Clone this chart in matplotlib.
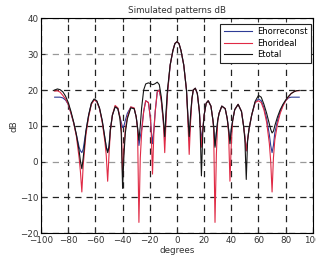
import matplotlib
matplotlib.use('Agg')
import matplotlib.pyplot as plt

# angles (degrees) shared by the three patterns
angles = [-90, -88, -86, -84, -82, -80, -78, -76, -74, -72, -71, -70, -69, -67, -65, -63, -61, -59, -57, -55,
          -53, -52, -51, -50, -49, -47.5, -45.5, -43.5, -42, -41, -40, -39, -38, -36.5, -34, -31.5, -30, -29,
          -28, -27, -26, -24.5, -23, -21, -19.5, -19, -18, -17, -16, -14.5, -13, -11.5, -10, -9, -8, -7, -5,
          -3, -1.5, 0, 1.5, 3, 5, 7, 8, 9, 10, 11, 12, 13.5, 15, 16.5, 17, 18, 19, 20, 21.5, 23, 25, 26.5,
          27, 28, 29, 30, 31, 33, 35.5, 37, 38, 39, 40, 41, 42.5, 45, 47.5, 49, 50, 51, 52, 53, 55, 57.5,
          60, 62, 64, 66, 68, 69, 70, 71, 72, 74, 76, 78, 80, 82, 84, 86, 88, 90]

e_reconst = [18, 18, 18, 17.8, 17.2, 16, 13.5, 10.8, 7.5, 4, 3, 2.5, 3.5, 8.5, 13, 16.2, 17.3, 16.8, 14.8, 11.3,
             6.5, 4, 2.8, 4.5, 9, 13, 15.3, 14.8, 12.5, 11, 9.5, 10, 11.5, 13.5, 15.2, 14.8, 12.5, 9.5,
             4.5, 7, 9, 14, 17, 16.5, 12, 9, 5, 9, 14, 19.5, 20, 17, 11, 6, 13, 19, 27,
             31, 33, 33.5, 33, 31, 27, 20, 13, 6, 12, 17.5, 20, 20.5, 19, 14, 11, 6, 9, 13, 16.3, 17, 15.5, 11.5,
             9.5, 4.5, 8, 11.5, 13.5, 15.5, 14.8, 12, 9, 6, 9, 11.5, 14.5, 16, 14, 10, 7, 3, 6, 9, 13, 16.5,
             17.5, 17, 15, 12, 7.5, 4.5, 2.5, 4.5, 8, 11.5, 14, 15.8, 17, 17.8, 18, 18, 18, 18]

e_ideal = [19.7, 19.8, 19.4, 18.5, 17.5, 16, 13.5, 10.8, 7, 1, -3, -8.5, -1, 7.5, 12.5, 16, 17.2, 16.8, 14.8, 11,
           5.5, 1.5, -5.5, 2, 8.5, 13, 15.7, 15, 12.5, 10, -4, 4, 9, 12.5, 15.3, 15, 12.5, 9,
           -17, 1, 8, 14, 17, 16.5, 12, 9, -3.5, 8, 14, 19.5, 20, 17, 11, 2.5, 12, 19, 27,
           31, 33, 33.5, 33, 31, 27, 20, 12, 2, 11, 17.5, 20, 20.5, 19, 14, 11, 4, 9, 13, 16.3, 17, 15.5, 11.5,
           9, -17, 2, 11.5, 13.5, 15.5, 14.8, 12, 8, -5.5, 5, 11.5, 14.5, 16, 14, 10, 7, 3, 6, 9, 13, 16.5,
           17, 16.5, 14.5, 11, 5, 0, -8.5, 1, 6, 10.5, 13.5, 15.5, 17, 18, 19, 19.5, 19.8, 19.8]

e_total = [20, 20.3, 20.1, 19.5, 18.3, 16.5, 14, 11, 7.5, 3, 0, -2, 1, 8.5, 13, 16.3, 17.5, 17, 15, 11.5,
           6.5, 4, 2.5, 4, 9, 13, 15.3, 14.8, 12, 8, -7.5, 2, 8, 12, 15, 14.8, 12.5, 9.5,
           6, 10, 15, 20, 21.7, 22, 21.8, 21.7, 21.5, 21.6, 21.8, 22.2, 21.5, 18, 12, 7, 14, 20, 27,
           31, 33, 33.5, 33, 31, 27, 20, 13, 7, 13, 17.5, 20, 20.5, 19, 14, 10, -4, 8, 13, 16.3, 17, 15.5, 11.5,
           10, 4, 8, 11.5, 13.5, 15.5, 14.8, 12, 9, 5, 9, 11.5, 14.5, 16, 14, 10, 6, -5, 6, 9, 13, 16.8,
           18.5, 18, 16, 13.5, 10.5, 9, 8, 8.5, 10, 12.5, 14.5, 16, 17.2, 18.2, 19, 19.5, 19.8, 19.9]

series_labels = ['Ehorreconst', 'Ehorideal', 'Etotal']

plt.rcParams['font.family'] = ['DejaVu Sans']
fig = plt.figure(figsize=(3.16, 2.64), dpi=100)
ax = fig.add_axes([0.130, 0.117, 0.860, 0.813])

ax.plot(angles, e_reconst, color='#2e3c96', lw=0.8, label=series_labels[0])
ax.plot(angles, e_ideal, color='#e02a45', lw=0.8, label=series_labels[1])
ax.plot(angles, e_total, color='#151515', lw=0.8, label=series_labels[2])

ax.set_xlim(-100, 100)
ax.set_ylim(-20, 40)
ax.set_xticks(range(-100, 101, 20))
ax.set_yticks(range(-20, 41, 10))
ax.tick_params(direction='in', length=3, labelsize=6.3, colors='#333333', top=True, right=True, pad=2)

ax.grid(True, linestyle=(0, (5, 4)), color='#222222', linewidth=0.9)
for tick, line in zip(ax.get_yticks(), ax.yaxis.get_gridlines()):
    if tick in (0, 30):
        line.set_color('#999999')

ax.set_title('Simulated patterns dB', fontsize=6.3, color='#333333', pad=4)
ax.set_xlabel('degrees', fontsize=6.3, color='#333333', labelpad=1)
ax.set_ylabel('dB', fontsize=6.3, color='#333333', labelpad=1)

leg = ax.legend(loc='upper right', bbox_to_anchor=(0.993, 0.974), borderaxespad=0, fontsize=6,
                fancybox=False, framealpha=1, edgecolor='#222222',
                handlelength=3.4, handletextpad=0.6, labelspacing=0.3, borderpad=0.4)
leg.get_frame().set_linewidth(0.8)

fig.savefig('out.png', dpi=100)
